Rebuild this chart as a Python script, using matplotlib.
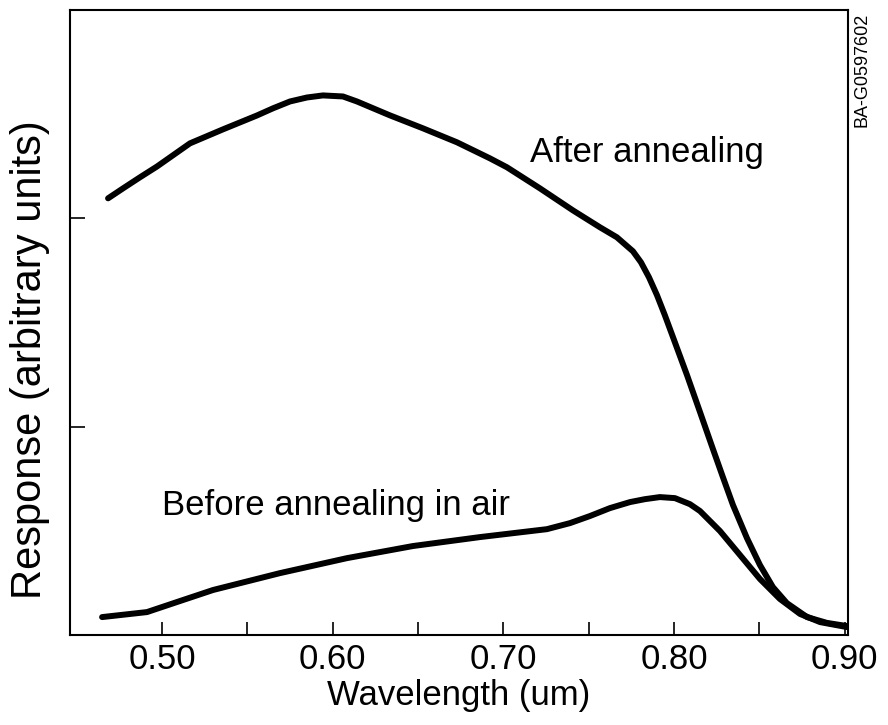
import matplotlib
matplotlib.use("Agg")
import matplotlib.pyplot as plt

plt.rcParams['font.family'] = ['Liberation Sans', 'DejaVu Sans']

# After annealing curve (wavelength um, response in arbitrary units)
after_x = [0.4684, 0.4772, 0.4871, 0.4971, 0.5164, 0.5357, 0.5557, 0.5650, 0.5750,
           0.5849, 0.5943, 0.6060, 0.6142, 0.6336, 0.6529, 0.6728, 0.6921, 0.7021,
           0.7214, 0.7408, 0.7566, 0.7665, 0.7759, 0.7806, 0.7853, 0.7900, 0.7946,
           0.7994, 0.8076, 0.8152, 0.8228, 0.8286, 0.8345, 0.8427, 0.8503, 0.8579,
           0.8661, 0.8779, 0.8896, 0.9013]
after_y = [2.096, 2.144, 2.197, 2.249, 2.360, 2.427, 2.494, 2.528, 2.561,
           2.580, 2.590, 2.585, 2.561, 2.494, 2.432, 2.365, 2.288, 2.245,
           2.144, 2.038, 1.957, 1.909, 1.842, 1.789, 1.717, 1.631, 1.535,
           1.429, 1.247, 1.070, 0.892, 0.758, 0.624, 0.465, 0.336, 0.230,
           0.153, 0.086, 0.058, 0.043]

# Before annealing in air curve
before_x = [0.4649, 0.4912, 0.5105, 0.5299, 0.5691, 0.6084, 0.6470, 0.6863, 0.7255,
            0.7390, 0.7507, 0.7624, 0.7742, 0.7829, 0.7917, 0.8005, 0.8093, 0.8152,
            0.8269, 0.8386, 0.8503, 0.8620, 0.8738, 0.8855, 0.9013]
before_y = [0.086, 0.110, 0.163, 0.216, 0.297, 0.369, 0.427, 0.470, 0.508,
            0.537, 0.571, 0.609, 0.638, 0.652, 0.662, 0.657, 0.628, 0.595,
            0.499, 0.384, 0.269, 0.173, 0.101, 0.062, 0.038]

xticks = [0.50, 0.60, 0.70, 0.80, 0.90]
xtick_labels = ["0.50", "0.60", "0.70", "0.80", "0.90"]
xminor = [0.55, 0.65, 0.75, 0.85]
yticks = [1, 2]

fig = plt.figure(figsize=(8.88, 7.25), dpi=100)
ax = fig.add_axes([70/888, 90/725, 778/888, 625/725])

lw = 4.3
ax.plot(after_x, after_y, color='black', lw=lw, solid_capstyle='round', solid_joinstyle='round')
ax.plot(before_x, before_y, color='black', lw=lw, solid_capstyle='round', solid_joinstyle='round')

ax.set_xlim(0.4461, 0.9019)
ax.set_ylim(0, 3.0)

ax.set_xticks(xticks)
ax.set_xticklabels(xtick_labels)
ax.set_xticks(xminor, minor=True)
ax.set_yticks(yticks)
ax.set_yticklabels([])

ax.tick_params(axis='x', which='both', direction='in', length=9.5, width=1.2,
               labelsize=25, pad=6)
ax.tick_params(axis='y', which='both', direction='in', length=11, width=1.2)

for s in ax.spines.values():
    s.set_linewidth(1.5)

ax.set_xlabel("Wavelength (um)", fontsize=25, labelpad=2)
ax.set_ylabel("Response (arbitrary units)", fontsize=30)
ax.yaxis.set_label_coords(-0.026, 0.44)

ax.text(0.7156, 2.317, "After annealing", fontsize=25, ha='left', va='center')
ax.text(0.500, 0.623, "Before annealing in air", fontsize=25, ha='left', va='center')

fig.text(862/888, 1 - 70/725, "BA-G0597602", fontsize=13, rotation=90,
         ha='center', va='center')

fig.savefig("out.png", dpi=100)
